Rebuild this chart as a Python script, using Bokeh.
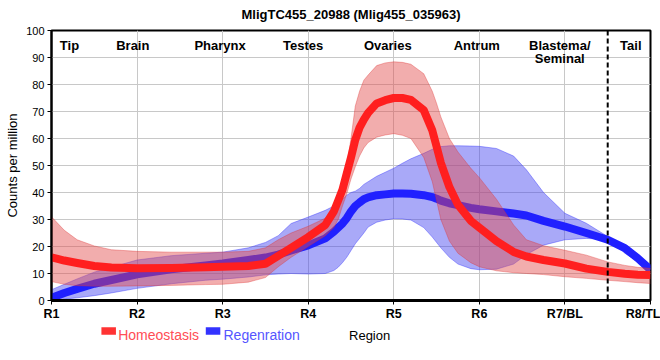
from bokeh.plotting import figure
from bokeh.layouts import column
from bokeh.models import Range1d, Span, ColumnDataSource, FixedTicker
from bokeh.core.properties import value
from bokeh.embed import file_html
from bokeh.resources import INLINE

title_text = "MligTC455_20988 (Mlig455_035963)"
tick_positions = [1, 2, 3, 4, 5, 6, 7, 8]
tick_labels = ["R1", "R2", "R3", "R4", "R5", "R6", "R7/BL", "R8/TL"]
region_names = ["Tip", "Brain", "Pharynx", "Testes", "Ovaries", "Antrum", "Blastema/", "Tail"]
region_x = [1.21, 1.95, 2.97, 3.94, 4.93, 5.97, 6.94, 7.77]
region2_names = ["Seminal"]
region2_x = [6.94]
boundary_x = 7.5

x = [1, 1.15, 1.3, 1.5, 1.7, 2, 2.4, 2.8, 3, 3.3, 3.5, 3.65, 3.8, 4, 4.2, 4.3, 4.35, 4.4,
     4.45, 4.5, 4.55, 4.6, 4.65, 4.7, 4.8, 4.9, 5, 5.1, 5.2, 5.35, 5.45, 5.5, 5.55, 5.65,
     5.75, 5.9, 6, 6.2, 6.4, 6.55, 6.75, 7, 7.25, 7.5, 7.7, 7.85, 8]

homeo_mean = [16, 14.8, 13.9, 12.8, 12.2, 11.9, 12, 12.3, 12.5, 12.8,
              13.6, 16.5, 19.5, 23.5, 28, 33, 37, 41, 47, 53,
              59.5, 64, 67, 69.5, 73, 74.2, 75, 75, 74.3, 70.5,
              63, 57, 51, 42, 35.5, 29.5, 27, 22, 18, 16.3,
              15, 13.7, 11.8, 10.6, 9.9, 9.5, 9.4]
homeo_upper = [31, 26, 22.5, 20.2, 18.8, 18.2, 17.9, 17.9, 17.9, 18.2,
               19.5, 22.5, 25, 27.5, 30.5, 34, 36.5, 40.5, 50, 60,
               72, 77.5, 81.6, 83.5, 87, 88, 88.4, 88.2, 87.5, 84,
               77.5, 73, 68, 60, 55, 49, 45.5, 37.5, 28, 22.5,
               20.3, 18.6, 16.8, 14.3, 13, 12.3, 11.9]
homeo_lower = [7, 6, 5.5, 5.3, 5.3, 5.4, 5.6, 5.9, 6, 6.8,
               8.5, 12.5, 16, 20, 24, 27, 30, 35, 39.5, 45,
               49.5, 53.5, 56.5, 58.5, 60.5, 61.3, 61.8, 61.2, 60, 53,
               44, 37, 30, 22, 17.5, 14, 12.5, 11, 10.3, 10,
               9.6, 8.8, 8.2, 7.5, 7, 6.6, 6.3]

regen_mean = [1, 2.8, 4.3, 6.2, 7.6, 9.7, 11.6, 13, 13.7, 15,
              15.9, 17, 18.5, 20.4, 23, 25.5, 27, 28.5, 30.5, 33,
              35, 36.3, 37.5, 38.2, 39, 39.3, 39.6, 39.6, 39.5, 39,
              38.3, 37.7, 37, 36, 35.3, 34.3, 33.8, 33, 32.2, 31.5,
              29.5, 27.4, 25, 22.5, 19.4, 15.7, 11.4]
regen_upper = [4, 6, 8, 10.5, 12.3, 15, 16.6, 17.5, 17.9, 19.5,
               21.5, 24, 28.5, 30.9, 33.4, 35, 36, 37.5, 39, 40,
               40.5, 41.5, 43, 44, 46, 47.5, 49, 50.8, 52.5, 54.5,
               56, 56.5, 57, 57.3, 57.3, 57.2, 57.1, 56.3, 53.5, 48.4,
               40, 32.3, 28.6, 23.7, 17.5, 14.5, 12.6]
regen_lower = [0, 0.5, 1, 1.8, 2.8, 4.5, 6.2, 7.5, 7.9, 8.7,
               9.5, 9.8, 10, 9.8, 10, 11.1, 12.3, 14, 16, 18.5,
               21, 23, 25, 27.2, 29, 29.8, 30.3, 30.2, 29.8, 27,
               23.5, 21.5, 19.5, 16, 13.5, 11.8, 11.4, 11.6, 13.5, 17,
               20.5, 22.5, 23, 22.5, 19, 15, 10.7]

series_names = ["Homeostasis", "Regenration"]
series_swatch = ["#ff3333", "#3333ff"]
series_text_color = ["#ff4d55", "#5555ff"]
x_label = "Region"
y_label = "Counts per million"

FONT = "Liberation Sans"
W = 660

src = ColumnDataSource(dict(x=x, hm=homeo_mean, hu=homeo_upper, hl=homeo_lower,
                            rm=regen_mean, ru=regen_upper, rl=regen_lower))


def blank(height):
    f = figure(width=W, height=height, output_backend="svg", toolbar_location=None,
               x_range=Range1d(0, W), y_range=Range1d(height, 0),
               x_axis_location=None, y_axis_location=None,
               min_border_left=0, min_border_right=0, min_border_top=0, min_border_bottom=0)
    f.grid.visible = False
    f.outline_line_color = None
    f.background_fill_color = "white"
    f.border_fill_color = "white"
    return f


# ---- header (title)
head = blank(23)
head.text(x=[330], y=[14], text=[title_text], text_font=value(FONT), text_font_style="bold",
          text_font_size="13px", text_align="center", text_baseline="alphabetic",
          text_color="black")

# ---- main plot
p = figure(width=W, height=300, output_backend="svg", toolbar_location=None,
           x_range=Range1d(1, 8), y_range=Range1d(0, 100),
           min_border_left=51, min_border_right=10, min_border_top=7, min_border_bottom=23)

p.outline_line_color = "black"
p.outline_line_width = 2
p.background_fill_color = "white"
p.border_fill_color = "white"

p.xgrid.ticker = FixedTicker(ticks=tick_positions)
p.ygrid.ticker = FixedTicker(ticks=list(range(0, 101, 10)))
p.grid.grid_line_color = "#c8c8c8"
p.grid.grid_line_width = 1

p.xaxis.ticker = FixedTicker(ticks=tick_positions)
p.xaxis.major_label_overrides = {t: l for t, l in zip(tick_positions, tick_labels)}
p.yaxis.ticker = FixedTicker(ticks=list(range(0, 101, 10)))
for ax in (p.xaxis[0], p.yaxis[0]):
    ax.axis_line_color = "black"
    ax.major_tick_line_color = "black"
    ax.minor_tick_line_color = None
    ax.major_tick_in = 0
    ax.major_tick_out = 4
    ax.major_label_standoff = 3
    ax.axis_label_text_font = FONT
    ax.axis_label_text_font_style = "normal"
    ax.axis_label_text_color = "black"
    ax.major_label_text_color = "black"
    ax.major_label_text_font = FONT
p.xaxis.major_label_standoff = 2
p.xaxis.axis_line_width = 3
p.yaxis.axis_line_width = 2
p.xaxis.major_label_text_font_style = "bold"
p.xaxis.major_label_text_font_size = "12.5px"
p.yaxis.major_label_text_font_size = "11px"
p.yaxis.axis_label = y_label
p.yaxis.axis_label_text_font_size = "13px"
p.yaxis.axis_label_standoff = 3

# regeneration band + line
p.varea(x="x", y1="rl", y2="ru", source=src, fill_color="#4040f0", fill_alpha=0.45)
p.line(x="x", y="ru", source=src, line_color="#3030ff", line_alpha=0.4, line_width=1)
p.line(x="x", y="rl", source=src, line_color="#3030ff", line_alpha=0.4, line_width=1)
p.line(x="x", y="rm", source=src, line_color="#2020ff", line_width=8, line_join="round")

# homeostasis band + line
p.varea(x="x", y1="hl", y2="hu", source=src, fill_color="#e34a4a", fill_alpha=0.45)
p.line(x="x", y="hu", source=src, line_color="#e03030", line_alpha=0.35, line_width=1)
p.line(x="x", y="hl", source=src, line_color="#e03030", line_alpha=0.35, line_width=1)
p.line(x="x", y="hm", source=src, line_color="#ff1f1f", line_width=8, line_join="round")

p.add_layout(Span(location=boundary_x, dimension="height", line_color="black",
                  line_width=2, line_dash="5 3"))

p.text(x=region_x, y=[94.6] * len(region_x), text=region_names, text_font=value(FONT),
       text_font_style="bold", text_font_size="13px", text_align="center",
       text_baseline="alphabetic", text_color="black")
p.text(x=region2_x, y=[89.5], text=region2_names, text_font=value(FONT),
       text_font_style="bold", text_font_size="13px", text_align="center",
       text_baseline="alphabetic", text_color="black")

# ---- footer (legend + x axis label)
foot = blank(37)
foot.quad(left=[55, 170], right=[71, 186], top=[3.7, 3.7], bottom=[11.3, 11.3],
          fill_color=series_swatch, line_color=None)
foot.text(x=[73.5, 189.5], y=[11.3, 11.3], text=series_names, text_font=value(FONT),
          text_font_size="14px", text_align="left", text_baseline="alphabetic",
          text_color=series_text_color)
foot.text(x=[350.5], y=[12], text=[x_label], text_font=value(FONT), text_font_size="13px",
          text_align="center", text_baseline="alphabetic", text_color="black")

layout = column(head, p, foot, spacing=0)
open("out.html", "w").write(file_html(layout, INLINE))
